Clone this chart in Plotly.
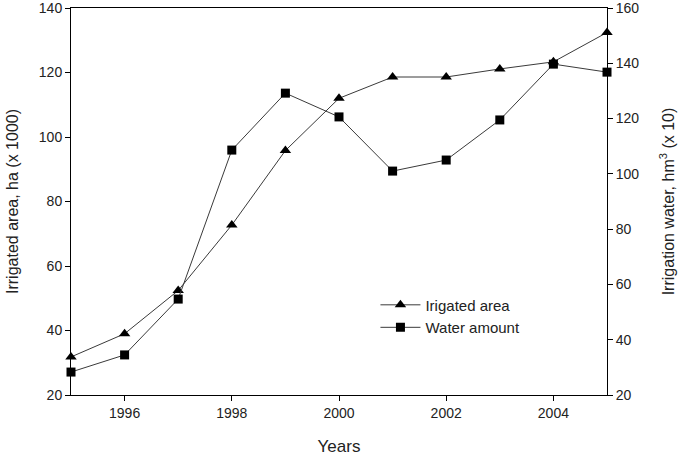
import plotly.graph_objects as go

years = [1995, 1996, 1997, 1998, 1999, 2000, 2001, 2002, 2003, 2004, 2005]
irrigated_area = [31.8, 39.0, 52.4, 72.7, 95.8, 112.0, 118.6, 118.6, 121.1, 123.3, 132.4]
water_amount = [28.3, 34.5, 54.7, 108.6, 129.2, 120.6, 101.0, 105.0, 119.5, 139.7, 136.8]
x_ticks = [1996, 1998, 2000, 2002, 2004]

font_family = "Liberation Sans, Arial, sans-serif"

fig = go.Figure()
fig.add_trace(go.Scatter(
    x=years, y=irrigated_area, name="Irigated area",
    mode="lines+markers",
    line=dict(color="#3a3a3a", width=1),
    marker=dict(symbol="triangle-up", size=10, color="black"),
    cliponaxis=False,
))
fig.add_trace(go.Scatter(
    x=years, y=water_amount, name="Water amount", yaxis="y2",
    mode="lines+markers",
    line=dict(color="#3a3a3a", width=1),
    marker=dict(symbol="square", size=9, color="black"),
    cliponaxis=False,
))

axis_common = dict(
    showgrid=False, zeroline=False, showline=True, linecolor="black", linewidth=1,
    ticks="outside", ticklen=5, tickcolor="black", automargin=False,
    ticklabeloverflow="allow",
    tickfont=dict(family=font_family, size=14, color="#222"),
)

fig.update_layout(
    width=685, height=456,
    margin=dict(l=71, r=78, t=8, b=61),
    plot_bgcolor="white", paper_bgcolor="white",
    font=dict(family=font_family, color="#222"),
    showlegend=True,
    legend=dict(x=0.568, y=0.275, xanchor="left", yanchor="top",
                bgcolor="rgba(0,0,0,0)", font=dict(size=15, color="#222"),
                tracegroupgap=0, itemwidth=40),
    xaxis=dict(range=[1995, 2005], tickvals=x_ticks, mirror=True,
               title=dict(text="Years", font=dict(size=17), standoff=20),
               **axis_common),
    yaxis=dict(range=[20, 140], dtick=20,
               title=dict(text="Irrigated area, ha (x 1000)", font=dict(size=16), standoff=16),
               **axis_common),
    yaxis2=dict(range=[20, 160], dtick=20, overlaying="y", side="right",
                title=dict(text="Irrigation water, hm<sup>3</sup> (x 10)", font=dict(size=16), standoff=24),
                **axis_common),
)

# drop the page's default 8px body margin so the figure fills the window
fig.write_html("out.html", config={"displayModeBar": False},
               post_script="document.body.style.margin='0';")
